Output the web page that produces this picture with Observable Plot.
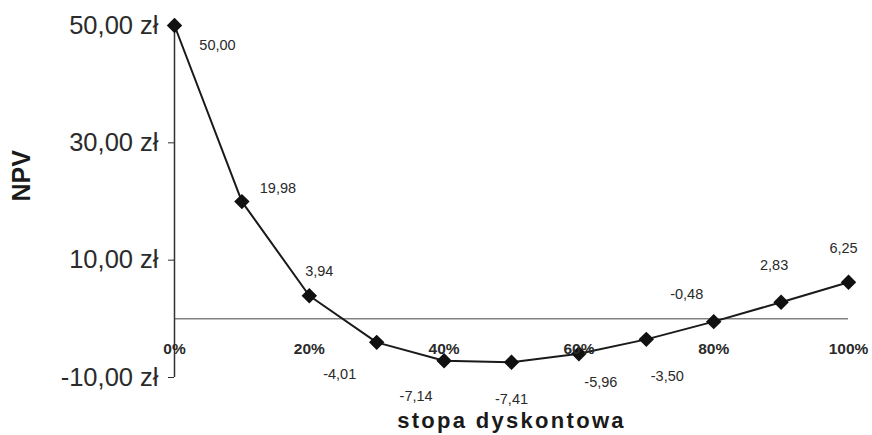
<!DOCTYPE html>
<html>
<head>
<meta charset="utf-8">
<script src="https://cdn.jsdelivr.net/npm/d3@7"></script>
<script src="https://cdn.jsdelivr.net/npm/@observablehq/plot@0.6"></script>
<style>
  html, body { margin: 0; padding: 0; background: #ffffff; }
  #chart { width: 872px; height: 435px; }
</style>
</head>
<body>
<div id="chart"></div>
<script>
// Discount rates (as fractions) and the resulting NPV values
const rates = [0, 0.1, 0.2, 0.3, 0.4, 0.5, 0.6, 0.7, 0.8, 0.9, 1.0];
const npv = [50.00, 19.98, 3.94, -4.01, -7.14, -7.41, -5.96, -3.50, -0.48, 2.83, 6.25];

// Axis ticks
const xTicks = [0, 0.2, 0.4, 0.6, 0.8, 1.0];
const yTicks = [-10, 10, 30, 50];

// Pixel nudges for each value label, [dx, dy]
const labelNudge = [
  [43, 20], [36, -13], [10, -24], [-37, 32], [-28, 36], [0, 37],
  [22, 29], [21, 37], [-27, -27], [-7, -37], [-5, -34]
];

const data = rates.map((r, i) => ({rate: r, npv: npv[i]}));
const fmt = v => v.toFixed(2).replace(".", ",");

const valueLabels = data.map((d, i) =>
  Plot.text([d], {
    x: "rate", y: "npv", text: v => fmt(v.npv),
    dx: labelNudge[i][0], dy: labelNudge[i][1],
    fontSize: 14.5, fill: "#2a2a2a"
  })
);

const chart = Plot.plot({
  width: 872,
  height: 435,
  marginLeft: 174,
  marginRight: 24,
  marginTop: 25,
  marginBottom: 58,
  style: {fontFamily: "Liberation Sans, Arial, sans-serif", fontSize: "25.5px", color: "#2b2b2b", background: "#ffffff"},
  x: {domain: [0, 1], axis: null},
  y: {
    domain: [-10, 50], ticks: yTicks, tickSize: 6, tickPadding: 10,
    tickFormat: v => fmt(v) + " zł", label: null
  },
  marks: [
    Plot.ruleY([0], {stroke: "#444", strokeWidth: 1}),
    Plot.ruleX([0], {y1: -10, y2: 50, stroke: "#333", strokeWidth: 1.5}),
    Plot.line(data, {x: "rate", y: "npv", stroke: "#1a1a1a", strokeWidth: 2}),
    Plot.dot(data, {x: "rate", y: "npv", symbol: "diamond2", r: 6, fill: "#111", stroke: "#111"}),
    Plot.text(xTicks, {
      x: d => d, y: () => 0, dy: 30, text: d => `${Math.round(d * 100)}%`,
      fontSize: 15.5, fontWeight: "bold", fill: "#2a2a2a"
    }),
    ...valueLabels,
    Plot.text(["stopa dyskontowa"], {
      frameAnchor: "bottom", lineAnchor: "middle", dy: 43, text: d => d,
      fontSize: 22, fontWeight: "bold", fill: "#1a1a1a"
    }),
    Plot.text(["NPV"], {
      frameAnchor: "left", lineAnchor: "middle", rotate: -90, dx: -153, text: d => d,
      fontSize: 25, fontWeight: "bold", fill: "#1a1a1a"
    })
  ]
});

d3.select(chart).selectAll("text")
  .filter(function () { return this.textContent === "stopa dyskontowa"; })
  .attr("letter-spacing", "2.3px");

document.getElementById("chart").appendChild(chart);
</script>
</body>
</html>
